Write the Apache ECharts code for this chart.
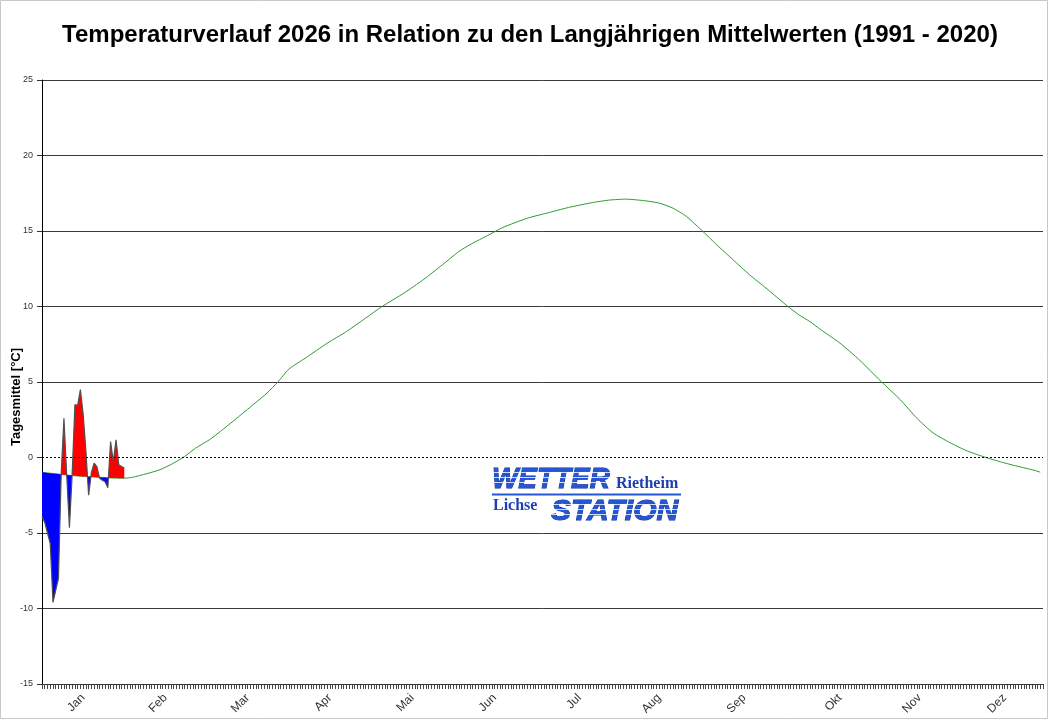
<!DOCTYPE html>
<html><head><meta charset="utf-8">
<script src="https://cdn.jsdelivr.net/npm/echarts@6/dist/echarts.min.js"></script>
<style>html,body{margin:0;padding:0;background:#fff}#c{width:1050px;height:720px}</style>
</head><body><div id="c"></div>
<script>
// ---- data ----
const monthNames = ['Jan','Feb','Mar','Apr','Mai','Jun','Jul','Aug','Sep','Okt','Nov','Dez'];
const monthLabelDays = [15,45,75,105,135,165,196,225,256,291,320,351];
const yTicks = [-15,-10,-5,0,5,10,15,20,25];

// observed daily means 2026 (day index 0 = 1 Jan)
const obsDays = [0,1,2,3,4,5,6,7,8,9,10,11,12,13,14,15,16,17,18,19,20,21,22,23,24,25,26,27,28,29,30];
const obsValues = [-3.9,-4.3,-5.0,-5.7,-9.6,-8.8,-8.0,-1.1,2.6,-1.15,-4.65,-1.1,3.5,3.45,4.5,2.9,0.46,-2.5,-1.0,-0.37,-0.6,-1.37,-1.5,-1.6,-2.0,1.06,-0.27,1.17,-0.48,-0.6,-0.7];

// long-term mean 1991-2020
const meanDays = [0,1,2,3,4,5,6,7,8,9,10,11,12,13,14,15,16,17,18,19,20,21,22,23,24,25,26,27,28,29,30,
  33,38,43,48,52,56,61,65,71,77,82,86,90,96,104,111,118,124,132,139,146,152,156,163,168,177,184,192,
  201,207,213,220,225,230,235,241,246,252,258,264,272,276,280,284,291,298,306,313,319,325,331,337,343,349,355,361,364];
const meanValues = [-0.97,-1.0,-1.02,-1.04,-1.06,-1.08,-1.1,-1.12,-1.14,-1.16,-1.18,-1.19,-1.21,-1.22,-1.24,-1.25,-1.26,-1.27,-1.28,-1.29,-1.3,-1.31,-1.32,-1.33,-1.34,-1.35,-1.36,-1.36,-1.37,-1.37,-1.37,
  -1.31,-1.08,-0.81,-0.37,0.07,0.62,1.17,1.72,2.6,3.5,4.26,5.0,5.85,6.58,7.57,8.34,9.23,10.0,10.89,11.77,12.76,13.64,14.09,14.75,15.23,15.85,16.18,16.56,
  16.89,17.05,17.11,17.0,16.85,16.52,15.96,14.97,14.09,13.09,12.1,11.22,10.0,9.45,9.0,8.46,7.57,6.47,5.03,3.82,2.6,1.62,0.99,0.46,0.07,-0.26,-0.55,-0.81,-0.97];

// ---- chart ----
const RED = '#ff0000', BLUE = '#0000ff';
const meanByDay = {};
meanDays.forEach((d, i) => { meanByDay[d] = meanValues[i]; });

function renderFill(params, api) {
  if (params.dataIndex !== 0) return null;
  const polys = [];
  let top = [], bot = [], sign = 0, prevDiff = 0;
  const flush = () => {
    if (top.length > 1) polys.push({ pts: top.concat(bot.slice().reverse()), color: sign > 0 ? RED : BLUE });
  };
  for (let i = 0; i < obsDays.length; i++) {
    const d = obsDays[i], o = obsValues[i], m = meanByDay[d];
    const diff = o - m;
    const s = diff >= 0 ? 1 : -1;
    if (i === 0) { sign = s; top = [[d, o]]; bot = [[d, m]]; prevDiff = diff; continue; }
    if (s !== sign) {
      const d0 = obsDays[i - 1], m0 = meanByDay[d0];
      const t = prevDiff / (prevDiff - diff);
      const pc = [d0 + t * (d - d0), m0 + t * (m - m0)];
      top.push(pc); bot.push(pc);
      flush();
      sign = s; top = [pc]; bot = [pc];
    }
    top.push([d, o]); bot.push([d, m]);
    prevDiff = diff;
  }
  flush();
  return {
    type: 'group',
    children: polys.map(p => ({
      type: 'polygon',
      shape: { points: p.pts.map(q => api.coord(q)) },
      style: { fill: p.color }
    }))
  };
}

const gridColors = yTicks.map(v => v === 0 ? 'rgba(0,0,0,0)' : '#3a3a3a');
const FONT = '"Liberation Sans", Arial, sans-serif';

const chart = echarts.init(document.getElementById('c'), null, { renderer: 'canvas' });
chart.setOption({
  animation: false,
  backgroundColor: '#fff',
  title: {
    text: 'Temperaturverlauf 2026 in Relation zu den Langjährigen Mittelwerten (1991 - 2020)',
    left: 525, top: 18, textAlign: 'center',
    textStyle: { fontFamily: FONT, fontSize: 24, fontWeight: 'bold', color: '#000' }
  },
  grid: { left: 42, right: 7, top: 80, bottom: 36 },
  xAxis: {
    type: 'value', min: 0, max: 365, interval: 1,
    axisLine: { show: true, onZero: false, lineStyle: { color: '#333', width: 1 } },
    axisTick: { show: true, length: 5, lineStyle: { color: '#444', width: 1 } },
    splitLine: { show: false },
    axisLabel: {
      rotate: 45, margin: 12, fontSize: 12, color: '#333', fontFamily: FONT,
      showMinLabel: true, showMaxLabel: true,
      formatter: v => { const k = monthLabelDays.indexOf(Math.round(v)); return k >= 0 ? monthNames[k] : ''; }
    }
  },
  yAxis: {
    type: 'value', min: -15, max: 25, interval: 5,
    axisLine: { show: true, lineStyle: { color: '#000', width: 1 } },
    axisTick: { show: true, length: 5, lineStyle: { color: '#333' } },
    axisLabel: { fontSize: 9, color: '#333', margin: 9, fontFamily: FONT },
    splitLine: { show: true, lineStyle: { color: gridColors, width: 1 } }
  },
  graphic: [
    { type: 'rect', shape: { x: 0.5, y: 0.5, width: 1047, height: 718 }, style: { fill: null, stroke: '#c8c8c8', lineWidth: 1 }, silent: true },
    { type: 'text', x: 16, y: 397, rotation: Math.PI / 2,
      style: { text: 'Tagesmittel [°C]', font: 'bold 13px ' + FONT, fill: '#000', align: 'center', verticalAlign: 'middle' } },
    // logo
    { type: 'text', x: 492, y: 465, scaleX: 0.93,
      style: { text: 'WETTER', font: 'italic bold 30px ' + FONT, fill: '#2456d6', stroke: '#0b2a90', lineWidth: 1, align: 'left', verticalAlign: 'top' } },
    { type: 'text', x: 616, y: 476,
      style: { text: 'Rietheim', font: 'bold 16px "Liberation Serif", serif', fill: '#1f3fb0', align: 'left', verticalAlign: 'top' } },
    { type: 'line', shape: { x1: 492, y1: 494.5, x2: 681, y2: 494.5 }, style: { stroke: '#2456d6', lineWidth: 2 } },
    { type: 'text', x: 493, y: 498,
      style: { text: 'Lichse', font: 'bold 16px "Liberation Serif", serif', fill: '#1f3fb0', align: 'left', verticalAlign: 'top' } },
    { type: 'text', x: 551, y: 497, scaleX: 1.0,
      style: { text: 'STATION', font: 'italic bold 30px ' + FONT, fill: '#2456d6', stroke: '#0b2a90', lineWidth: 1, align: 'left', verticalAlign: 'top' } },
    { type: 'line', shape: { x1: 490, y1: 472.5, x2: 612, y2: 472.5 }, style: { stroke: '#fff', lineWidth: 0.8 }, z: 10 },
    { type: 'line', shape: { x1: 490, y1: 477.5, x2: 612, y2: 477.5 }, style: { stroke: '#fff', lineWidth: 0.8 }, z: 10 },
    { type: 'line', shape: { x1: 490, y1: 482.5, x2: 612, y2: 482.5 }, style: { stroke: '#fff', lineWidth: 0.8 }, z: 10 },
    { type: 'line', shape: { x1: 549, y1: 504.5, x2: 682, y2: 504.5 }, style: { stroke: '#fff', lineWidth: 0.8 }, z: 10 },
    { type: 'line', shape: { x1: 549, y1: 509.5, x2: 682, y2: 509.5 }, style: { stroke: '#fff', lineWidth: 0.8 }, z: 10 },
    { type: 'line', shape: { x1: 549, y1: 514.5, x2: 682, y2: 514.5 }, style: { stroke: '#fff', lineWidth: 0.8 }, z: 10 }
  ],
  series: [
    {
      name: 'Mittel', type: 'line', z: 2,
      data: meanDays.map((d, i) => [d, meanValues[i]]),
      showSymbol: false, smooth: 0.2,
      lineStyle: { color: '#2f9a2f', width: 1 },
      markLine: {
        silent: true, symbol: 'none', label: { show: false },
        lineStyle: { color: '#000', type: [2, 2], width: 1 },
        data: [{ yAxis: 0 }]
      }
    },
    {
      name: 'Abweichung', type: 'custom', z: 3,
      data: obsDays.map((d, i) => [d, obsValues[i]]),
      encode: { x: 0, y: 1 },
      renderItem: renderFill
    },
    {
      name: '2026', type: 'line', z: 4,
      data: obsDays.map((d, i) => [d, obsValues[i]]),
      showSymbol: false,
      lineStyle: { color: '#505050', width: 1.2 }
    }
  ]
});
</script>
</body></html>
